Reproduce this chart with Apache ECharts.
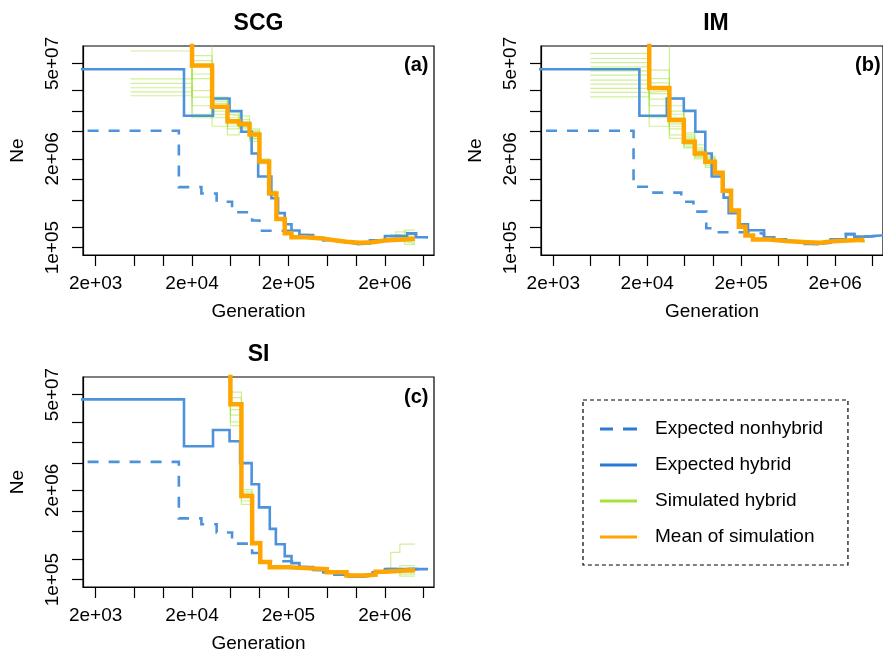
<!DOCTYPE html>
<html>
<head>
<meta charset="utf-8">
<script src="https://cdn.jsdelivr.net/npm/echarts@6/dist/echarts.min.js"></script>
<style>
html,body{margin:0;padding:0;background:#fff;}
#chart{width:883px;height:654px;}
</style>
</head>
<body>
<div id="chart"></div>
<script>
// ---------- tick / label values ----------
const xTickValues = [2e3, 5e3, 1e4, 2e4, 5e4, 1e5, 2e5, 5e5, 1e6, 2e6, 5e6];
const xLabelValues = [2e3, 2e4, 2e5, 2e6];
const yTickValues = [1e5, 2e5, 5e5, 1e6, 2e6, 5e6, 1e7, 2e7, 5e7];
const yLabelValues = [1e5, 2e6, 5e7];
const panelTitles = ['SCG', 'IM', 'SI'];
const panelTags = ['(a)', '(b)', '(c)'];
const legendNames = ['Expected nonhybrid', 'Expected hybrid', 'Simulated hybrid', 'Mean of simulation'];

// ---------- panel (a) SCG ----------
const aNonGen = [1.0e3, 1.46e4, 2.5e4, 3.6e4, 5.2e4, 8.4e4, 1.0e5, 2.6e5, 3.6e5, 4.6e5, 6.0e5, 8.0e5, 1.05e6, 1.4e6, 2.0e6, 3.4e6, 4.2e6, 5.6e6];
const aNonNe  = [5.15e6, 7.7e5, 6.2e5, 4.7e5, 3.3e5, 2.5e5, 1.77e5, 1.53e5, 1.38e5, 1.28e5, 1.2e5, 1.13e5, 1.15e5, 1.28e5, 1.48e5, 1.62e5, 1.42e5, 1.42e5];
const aHybGen = [1.0e3, 1.65e4, 3.3e4, 4.9e4, 6.5e4, 8.3e4, 9.7e4, 1.33e5, 1.56e5, 1.83e5, 2.15e5, 2.6e5, 3.6e5, 4.6e5, 6.0e5, 8.0e5, 1.05e6, 1.4e6, 2.0e6, 3.4e6, 4.2e6, 5.6e6];
const aHybNe  = [4.1e7, 8.55e6, 1.53e7, 1.0e7, 5.0e6, 2.4e6, 1.1e6, 5.3e5, 3.2e5, 2.2e5, 1.78e5, 1.53e5, 1.38e5, 1.28e5, 1.2e5, 1.13e5, 1.15e5, 1.28e5, 1.48e5, 1.62e5, 1.42e5, 1.42e5];
const aMeanGen = [2e4, 2e4, 3.23e4, 4.66e4, 6.15e4, 7.9e4, 1.0e5, 1.26e5, 1.5e5, 1.83e5, 2.15e5, 3.0e5, 4.5e5, 6.0e5, 8.0e5, 1.1e6, 1.5e6, 2.0e6, 4.1e6];
const aMeanNe  = [2e8, 4.66e7, 1.16e7, 7.1e6, 6.46e6, 4.56e6, 1.83e6, 6.2e5, 2.63e5, 1.62e5, 1.42e5, 1.36e5, 1.28e5, 1.22e5, 1.18e5, 1.2e5, 1.27e5, 1.35e5, 1.35e5];
const aSimGen = [4.6e3, 2.0e4, 3.23e4, 4.66e4, 6.15e4, 7.9e4, 1.0e5, 1.26e5, 1.5e5, 1.83e5, 2.15e5, 3.0e5, 4.5e5, 6.0e5, 8.0e5, 1.1e6, 1.5e6, 2.0e6, 2.6e6, 3.2e6, 4.1e6];
const aSim1 = [7.6e7, 3.0e7, 1.4e7, 8.0e6, 6.8e6, 5.0e6, 1.9e6, 6.5e5, 2.7e5, 1.65e5, 1.45e5, 1.38e5, 1.3e5, 1.23e5, 1.19e5, 1.21e5, 1.28e5, 1.35e5, 1.55e5, 1.8e5, 1.8e5];
const aSim2 = [2.96e7, 5.5e7, 1.0e7, 5.5e6, 6.0e6, 4.0e6, 1.8e6, 6.0e5, 2.6e5, 1.6e5, 1.4e5, 1.35e5, 1.27e5, 1.21e5, 1.17e5, 1.19e5, 1.25e5, 1.3e5, 1.22e5, 1.15e5, 1.15e5];
const aSim3 = [2.55e7, 2.0e7, 1.5e7, 1.0e7, 8.5e6, 5.5e6, 2.0e6, 6.8e5, 2.7e5, 1.63e5, 1.43e5, 1.36e5, 1.29e5, 1.22e5, 1.18e5, 1.2e5, 1.27e5, 1.38e5, 1.45e5, 1.4e5, 1.4e5];
const aSim4 = [2.2e7, 1.2e7, 8.0e6, 4.5e6, 5.0e6, 3.6e6, 1.7e6, 5.8e5, 2.5e5, 1.58e5, 1.4e5, 1.34e5, 1.27e5, 1.21e5, 1.17e5, 1.19e5, 1.26e5, 1.33e5, 1.28e5, 1.2e5, 1.2e5];
const aSim5 = [1.92e7, 8.0e6, 1.2e7, 6.5e6, 5.5e6, 4.2e6, 1.75e6, 6.3e5, 2.65e5, 1.62e5, 1.42e5, 1.36e5, 1.28e5, 1.22e5, 1.18e5, 1.2e5, 1.27e5, 1.36e5, 1.7e5, 1.62e5, 1.62e5];
const aSim6 = [1.68e7, 3.5e7, 6.0e6, 9.0e6, 7.5e6, 4.8e6, 1.85e6, 6.2e5, 2.6e5, 1.61e5, 1.41e5, 1.35e5, 1.28e5, 1.22e5, 1.18e5, 1.2e5, 1.26e5, 1.32e5, 1.35e5, 1.3e5, 1.3e5];
const aSim7 = [2e8, 9.0e6, 1.6e7, 7.5e6, 6.0e6, 4.6e6, 1.8e6, 6.1e5, 2.62e5, 1.62e5, 1.42e5, 1.36e5, 1.28e5, 1.22e5, 1.18e5, 1.2e5, 1.27e5, 1.35e5, 1.4e5, 1.12e5, 1.12e5];
const aSim8 = [2e8, 2e8, 1.3e7, 6.0e6, 7.0e6, 5.2e6, 1.9e6, 6.3e5, 2.65e5, 1.63e5, 1.43e5, 1.37e5, 1.29e5, 1.22e5, 1.18e5, 1.21e5, 1.28e5, 1.36e5, 1.38e5, 1.48e5, 1.48e5];
const aSim9 = [2e8, 1.6e7, 1.1e7, 6.8e6, 5.8e6, 4.4e6, 1.78e6, 6.2e5, 2.62e5, 1.61e5, 1.41e5, 1.35e5, 1.28e5, 1.22e5, 1.18e5, 1.2e5, 1.26e5, 1.34e5, 1.25e5, 1.25e5, 1.25e5];
const aSim10 = [2e8, 6.5e7, 9.0e6, 8.5e6, 6.5e6, 3.9e6, 1.88e6, 6.4e5, 2.68e5, 1.64e5, 1.44e5, 1.37e5, 1.29e5, 1.23e5, 1.19e5, 1.21e5, 1.28e5, 1.37e5, 1.5e5, 1.35e5, 1.35e5];

// ---------- panel (b) IM ----------
const bNonGen = [1.0e3, 1.43e4, 2.25e4, 4.6e4, 6.2e4, 8.5e4, 1.1e5, 2.36e5, 3.5e5, 4.5e5, 6.0e5, 9.5e5, 1.3e6, 1.8e6, 2.6e6, 3.2e6, 4.4e6, 7.0e6];
const bNonNe  = [5.15e6, 7.8e5, 6.4e5, 4.7e5, 3.37e5, 1.92e5, 1.68e5, 1.6e5, 1.42e5, 1.32e5, 1.22e5, 1.13e5, 1.18e5, 1.32e5, 1.58e5, 1.45e5, 1.53e5, 1.53e5];
const bHybGen = [1.0e3, 1.65e4, 3.23e4, 4.9e4, 6.5e4, 8.3e4, 9.7e4, 1.3e5, 1.47e5, 1.86e5, 2.36e5, 3.5e5, 4.5e5, 6.0e5, 9.5e5, 1.3e6, 1.8e6, 2.6e6, 3.2e6, 4.4e6, 7.0e6];
const bHybNe  = [4.1e7, 8.55e6, 1.53e7, 1.01e7, 5.0e6, 2.4e6, 1.1e6, 5.4e5, 3.2e5, 2.2e5, 1.8e5, 1.42e5, 1.32e5, 1.22e5, 1.13e5, 1.18e5, 1.32e5, 1.58e5, 1.45e5, 1.53e5, 1.53e5];
const bMeanGen = [2.1e4, 2.1e4, 3.44e4, 4.9e4, 6.4e4, 8.3e4, 1.05e5, 1.27e5, 1.56e5, 1.89e5, 2.22e5, 2.67e5, 4.0e5, 6.0e5, 1.0e6, 1.4e6, 1.87e6, 4.1e6];
const bMeanNe  = [2e8, 2.19e7, 7.4e6, 3.56e6, 2.4e6, 1.82e6, 1.25e6, 6.8e5, 3.5e5, 2.03e5, 1.51e5, 1.32e5, 1.25e5, 1.2e5, 1.18e5, 1.24e5, 1.3e5, 1.3e5];
const bSimGen = [4.96e3, 2.1e4, 3.44e4, 4.9e4, 6.4e4, 8.3e4, 1.05e5, 1.27e5, 1.56e5, 1.89e5, 2.22e5, 2.67e5, 4.0e5, 6.0e5, 1.0e6, 1.4e6, 1.87e6, 2.6e6, 3.2e6, 4.1e6];
const bSim1  = [7.0e7, 1.8e7, 9.0e6, 4.0e6, 2.6e6, 1.9e6, 1.3e6, 7.0e5, 3.6e5, 2.1e5, 1.55e5, 1.35e5, 1.27e5, 1.21e5, 1.18e5, 1.23e5, 1.3e5, 1.28e5, 1.25e5, 1.25e5];
const bSim2  = [5.9e7, 2.6e7, 5.5e6, 3.0e6, 2.2e6, 1.7e6, 1.2e6, 6.6e5, 3.4e5, 2.0e5, 1.5e5, 1.31e5, 1.24e5, 1.19e5, 1.17e5, 1.22e5, 1.29e5, 1.24e5, 1.2e5, 1.2e5];
const bSim3  = [5.15e7, 1.2e7, 1.2e7, 4.8e6, 2.9e6, 2.1e6, 1.3e6, 7.1e5, 3.6e5, 2.05e5, 1.52e5, 1.33e5, 1.26e5, 1.2e5, 1.18e5, 1.24e5, 1.32e5, 1.3e5, 1.27e5, 1.27e5];
const bSim4  = [4.45e7, 2.2e7, 6.5e6, 3.3e6, 2.1e6, 1.6e6, 1.2e6, 6.5e5, 3.4e5, 2.0e5, 1.5e5, 1.31e5, 1.24e5, 1.19e5, 1.17e5, 1.22e5, 1.3e5, 1.26e5, 1.22e5, 1.22e5];
const bSim5  = [3.9e7, 3.0e7, 8.0e6, 3.8e6, 3.2e6, 2.0e6, 1.3e6, 6.9e5, 3.5e5, 2.04e5, 1.51e5, 1.32e5, 1.25e5, 1.2e5, 1.18e5, 1.23e5, 1.31e5, 1.29e5, 1.24e5, 1.24e5];
const bSim6  = [3.37e7, 8.0e6, 1.5e7, 2.9e6, 2.4e6, 1.75e6, 1.25e6, 6.8e5, 3.5e5, 2.03e5, 1.51e5, 1.32e5, 1.25e5, 1.2e5, 1.18e5, 1.24e5, 1.31e5, 1.27e5, 1.21e5, 1.21e5];
const bSim7  = [2.84e7, 1.5e7, 4.5e6, 4.5e6, 2.0e6, 1.9e6, 1.22e6, 6.7e5, 3.45e5, 2.02e5, 1.5e5, 1.31e5, 1.24e5, 1.19e5, 1.17e5, 1.23e5, 1.3e5, 1.25e5, 1.23e5, 1.23e5];
const bSim8  = [2.49e7, 6.0e6, 7.0e6, 3.5e6, 2.7e6, 2.2e6, 1.28e6, 6.9e5, 3.55e5, 2.05e5, 1.52e5, 1.33e5, 1.26e5, 1.2e5, 1.18e5, 1.24e5, 1.31e5, 1.28e5, 1.26e5, 1.26e5];
const bSim9  = [2.15e7, 2e8, 6.0e6, 3.2e6, 2.5e6, 1.8e6, 1.24e6, 6.8e5, 3.5e5, 2.03e5, 1.51e5, 1.32e5, 1.25e5, 1.2e5, 1.18e5, 1.23e5, 1.3e5, 1.27e5, 1.23e5, 1.23e5];
const bSim10 = [1.88e7, 2.0e7, 1.0e7, 4.2e6, 2.3e6, 1.5e6, 1.2e6, 6.6e5, 3.4e5, 2.0e5, 1.5e5, 1.31e5, 1.24e5, 1.19e5, 1.17e5, 1.22e5, 1.29e5, 1.26e5, 1.22e5, 1.22e5];
const bSim11 = [1.62e7, 4.0e7, 4.0e6, 3.6e6, 2.2e6, 1.85e6, 1.26e6, 6.9e5, 3.5e5, 2.03e5, 1.51e5, 1.32e5, 1.25e5, 1.2e5, 1.18e5, 1.24e5, 1.31e5, 1.29e5, 1.25e5, 1.25e5];

// ---------- panel (c) SI ----------
const cNonGen = [1.0e3, 1.46e4, 2.5e4, 3.6e4, 5.2e4, 8.4e4, 1.0e5, 2.6e5, 3.6e5, 4.6e5, 6.0e5, 8.5e5, 1.2e6, 1.5e6, 2.0e6, 5.6e6];
const cNonNe  = [5.2e6, 7.8e5, 6.4e5, 4.85e5, 3.35e5, 2.44e5, 1.85e5, 1.52e5, 1.38e5, 1.28e5, 1.18e5, 1.1e5, 1.15e5, 1.28e5, 1.42e5, 1.42e5];
const cHybGen = [1.0e3, 1.65e4, 3.3e4, 4.9e4, 6.3e4, 8.3e4, 9.9e4, 1.28e5, 1.48e5, 1.83e5, 2.15e5, 2.6e5, 3.6e5, 4.6e5, 6.0e5, 8.5e5, 1.2e6, 1.5e6, 2.0e6, 5.6e6];
const cHybNe  = [4.25e7, 8.8e6, 1.52e7, 1.04e7, 5.0e6, 2.46e6, 1.13e6, 5.5e5, 3.27e5, 2.2e5, 1.74e5, 1.52e5, 1.38e5, 1.28e5, 1.18e5, 1.1e5, 1.15e5, 1.28e5, 1.42e5, 1.42e5];
const cMeanGen = [5.0e4, 5.0e4, 6.5e4, 8.4e4, 1.02e5, 1.28e5, 2.0e5, 3.0e5, 5.0e5, 8.0e5, 1.2e6, 1.6e6, 2.0e6, 4.1e6];
const cMeanNe  = [2e8, 3.6e7, 1.66e6, 3.4e5, 1.8e5, 1.51e5, 1.47e5, 1.42e5, 1.28e5, 1.15e5, 1.18e5, 1.3e5, 1.38e5, 1.38e5];
const cSimGen = [5.0e4, 5.0e4, 6.5e4, 8.4e4, 1.02e5, 1.28e5, 2.0e5, 3.0e5, 5.0e5, 8.0e5, 1.2e6, 1.6e6, 2.0e6, 2.3e6, 2.86e6, 4.1e6];
const cSim1 = [2e8, 5.4e7, 1.9e6, 3.6e5, 1.85e5, 1.53e5, 1.49e5, 1.43e5, 1.29e5, 1.16e5, 1.19e5, 1.31e5, 1.4e5, 2.5e5, 3.3e5, 3.3e5];
const cSim2 = [2e8, 4.5e7, 2.05e6, 3.5e5, 1.8e5, 1.52e5, 1.48e5, 1.42e5, 1.28e5, 1.15e5, 1.18e5, 1.3e5, 1.38e5, 1.45e5, 1.6e5, 1.6e5];
const cSim3 = [2e8, 3.0e7, 1.25e6, 3.3e5, 1.78e5, 1.5e5, 1.47e5, 1.41e5, 1.27e5, 1.14e5, 1.17e5, 1.29e5, 1.36e5, 1.3e5, 1.25e5, 1.25e5];
const cSim4 = [2e8, 2.5e7, 1.6e6, 3.45e5, 1.82e5, 1.52e5, 1.48e5, 1.42e5, 1.28e5, 1.15e5, 1.18e5, 1.3e5, 1.38e5, 1.35e5, 1.12e5, 1.12e5];
const cSim5 = [2e8, 2.0e7, 1.4e6, 3.4e5, 1.8e5, 1.52e5, 1.48e5, 1.42e5, 1.28e5, 1.15e5, 1.18e5, 1.3e5, 1.37e5, 1.42e5, 1.5e5, 1.5e5];
const cSim6 = [2e8, 1.76e7, 1.8e6, 3.35e5, 1.8e5, 1.52e5, 1.48e5, 1.42e5, 1.28e5, 1.15e5, 1.18e5, 1.3e5, 1.38e5, 1.4e5, 1.2e5, 1.2e5];

// ---------- build ----------
const FONT = 'Liberation Sans, Arial, Helvetica, sans-serif';
const BLUE = '#4d93dc';
const GREEN = 'rgba(160,225,50,0.5)';
const ORANGE = '#FFA500';

const panels = [
  {non:[aNonGen,aNonNe], hyb:[aHybGen,aHybNe], mean:[aMeanGen,aMeanNe], simGen:aSimGen, sims:[aSim1,aSim2,aSim3,aSim4,aSim5,aSim6,aSim7,aSim8,aSim9,aSim10]},
  {non:[bNonGen,bNonNe], hyb:[bHybGen,bHybNe], mean:[bMeanGen,bMeanNe], simGen:bSimGen, sims:[bSim1,bSim2,bSim3,bSim4,bSim5,bSim6,bSim7,bSim8,bSim9,bSim10,bSim11]},
  {non:[cNonGen,cNonNe], hyb:[cHybGen,cHybNe], mean:[cMeanGen,cMeanNe], simGen:cSimGen, sims:[cSim1,cSim2,cSim3,cSim4,cSim5,cSim6]}
];

const gridPos = [
  {left: 83, top: 46, width: 351, height: 209},
  {left: 541, top: 46, width: 351, height: 209},
  {left: 83, top: 377, width: 351, height: 210}
];

function sci(v) {
  const e = Math.floor(Math.log10(v) + 1e-9);
  const m = Math.round(v / Math.pow(10, e));
  return m + 'e+' + String(e).padStart(2, '0');
}

function zip(g, n) { return g.map((x, i) => [x, n[i]]); }

function stepLine(name, gen, ne, idx, color, width, type, z) {
  return {
    type: 'line', name: name, xAxisIndex: idx, yAxisIndex: idx,
    data: zip(gen, ne), step: 'end', symbol: 'none', showSymbol: false,
    clip: true, silent: true, animation: false, z: z,
    itemStyle: {color: color},
    lineStyle: {color: color, width: width, type: type, cap: 'butt', join: 'miter'}
  };
}

const series = [];
panels.forEach((p, i) => {
  p.sims.forEach(s => series.push(stepLine(legendNames[2], p.simGen, s, i, GREEN, 1.2, 'solid', 2)));
  series.push(stepLine(legendNames[0], p.non[0], p.non[1], i, BLUE, 2.6, [11, 10], 3));
  series.push(stepLine(legendNames[1], p.hyb[0], p.hyb[1], i, BLUE, 2.6, 'solid', 4));
  series.push(stepLine(legendNames[3], p.mean[0], p.mean[1], i, ORANGE, 4.5, 'solid', 5));
});

const grids = gridPos.map(g => Object.assign({show: true, borderColor: '#000', borderWidth: 1.2, backgroundColor: 'transparent'}, g));

const xAxes = gridPos.map((g, i) => ({
  type: 'log', gridIndex: i, min: 1480, max: 6.46e6,
  axisLine: {show: true, onZero: false, lineStyle: {color: '#000', width: 1.2}},
  axisTick: {show: true, length: 11, inside: false, customValues: xTickValues, lineStyle: {color: '#000', width: 1.2}},
  axisLabel: {show: true, customValues: xLabelValues, formatter: v => sci(v), fontSize: 19, color: '#000', margin: 19, fontFamily: FONT},
  minorTick: {show: false}, splitLine: {show: false},
  name: 'Generation', nameLocation: 'middle', nameGap: 47,
  nameTextStyle: {fontSize: 19, color: '#000', fontFamily: FONT}
}));

const yAxes = gridPos.map((g, i) => ({
  type: 'log', gridIndex: i, min: 7.8e4, max: 9.0e7,
  axisLine: {show: true, onZero: false, lineStyle: {color: '#000', width: 1.2}},
  axisTick: {show: true, length: 11, inside: false, customValues: yTickValues, lineStyle: {color: '#000', width: 1.2}},
  axisLabel: {show: true, customValues: yLabelValues, formatter: v => sci(v), rotate: 90, fontSize: 19, color: '#000', margin: 21, fontFamily: FONT},
  minorTick: {show: false}, splitLine: {show: false},
  name: 'Ne', nameLocation: 'middle', nameGap: 56,
  nameTextStyle: {fontSize: 19, color: '#000', fontFamily: FONT}
}));

const titleCenters = [[258.5, 12], [716, 12], [258.5, 343]];
const tagPos = [[404, 55], [855, 55], [404, 387]];
const titles = [];
panelTitles.forEach((t, i) => titles.push({
  text: t, left: titleCenters[i][0], top: titleCenters[i][1], textAlign: 'center', padding: 0,
  textStyle: {fontSize: 23, fontWeight: 'bold', color: '#000', fontFamily: FONT}
}));
panelTags.forEach((t, i) => titles.push({
  text: t, left: tagPos[i][0], top: tagPos[i][1], padding: 0,
  textStyle: {fontSize: 20, fontWeight: 'bold', color: '#000', fontFamily: FONT}
}));

const option = {
  animation: false,
  backgroundColor: '#fff',
  textStyle: {fontFamily: FONT},
  title: titles,
  grid: grids,
  xAxis: xAxes,
  yAxis: yAxes,
  legend: {
    orient: 'vertical', left: 583, top: 400,
    padding: [18, 25, 17, 17],
    itemGap: 14, itemWidth: 37, itemHeight: 3,
    selectedMode: false,
    borderColor: '#000', borderWidth: 1.2, borderType: [4, 3],
    textStyle: {fontSize: 19, color: '#000', fontFamily: FONT, lineHeight: 22, padding: [0, 0, 0, 13]},
    itemStyle: {borderWidth: 0},
    data: [
      {name: legendNames[0], icon: 'path://M0,0h13v3h-13z M23,0h14v3h-14z', itemStyle: {color: '#2a7bd3', borderWidth: 0}},
      {name: legendNames[1], icon: 'rect', itemStyle: {color: '#2a7bd3', borderWidth: 0}},
      {name: legendNames[2], icon: 'rect', itemStyle: {color: '#a6e23a', borderWidth: 0}},
      {name: legendNames[3], icon: 'rect', itemStyle: {color: '#FFA500', borderWidth: 0}}
    ]
  },
  series: series
};

const chart = echarts.init(document.getElementById('chart'), null, {renderer: 'canvas'});
chart.setOption(option);
</script>
</body>
</html>
